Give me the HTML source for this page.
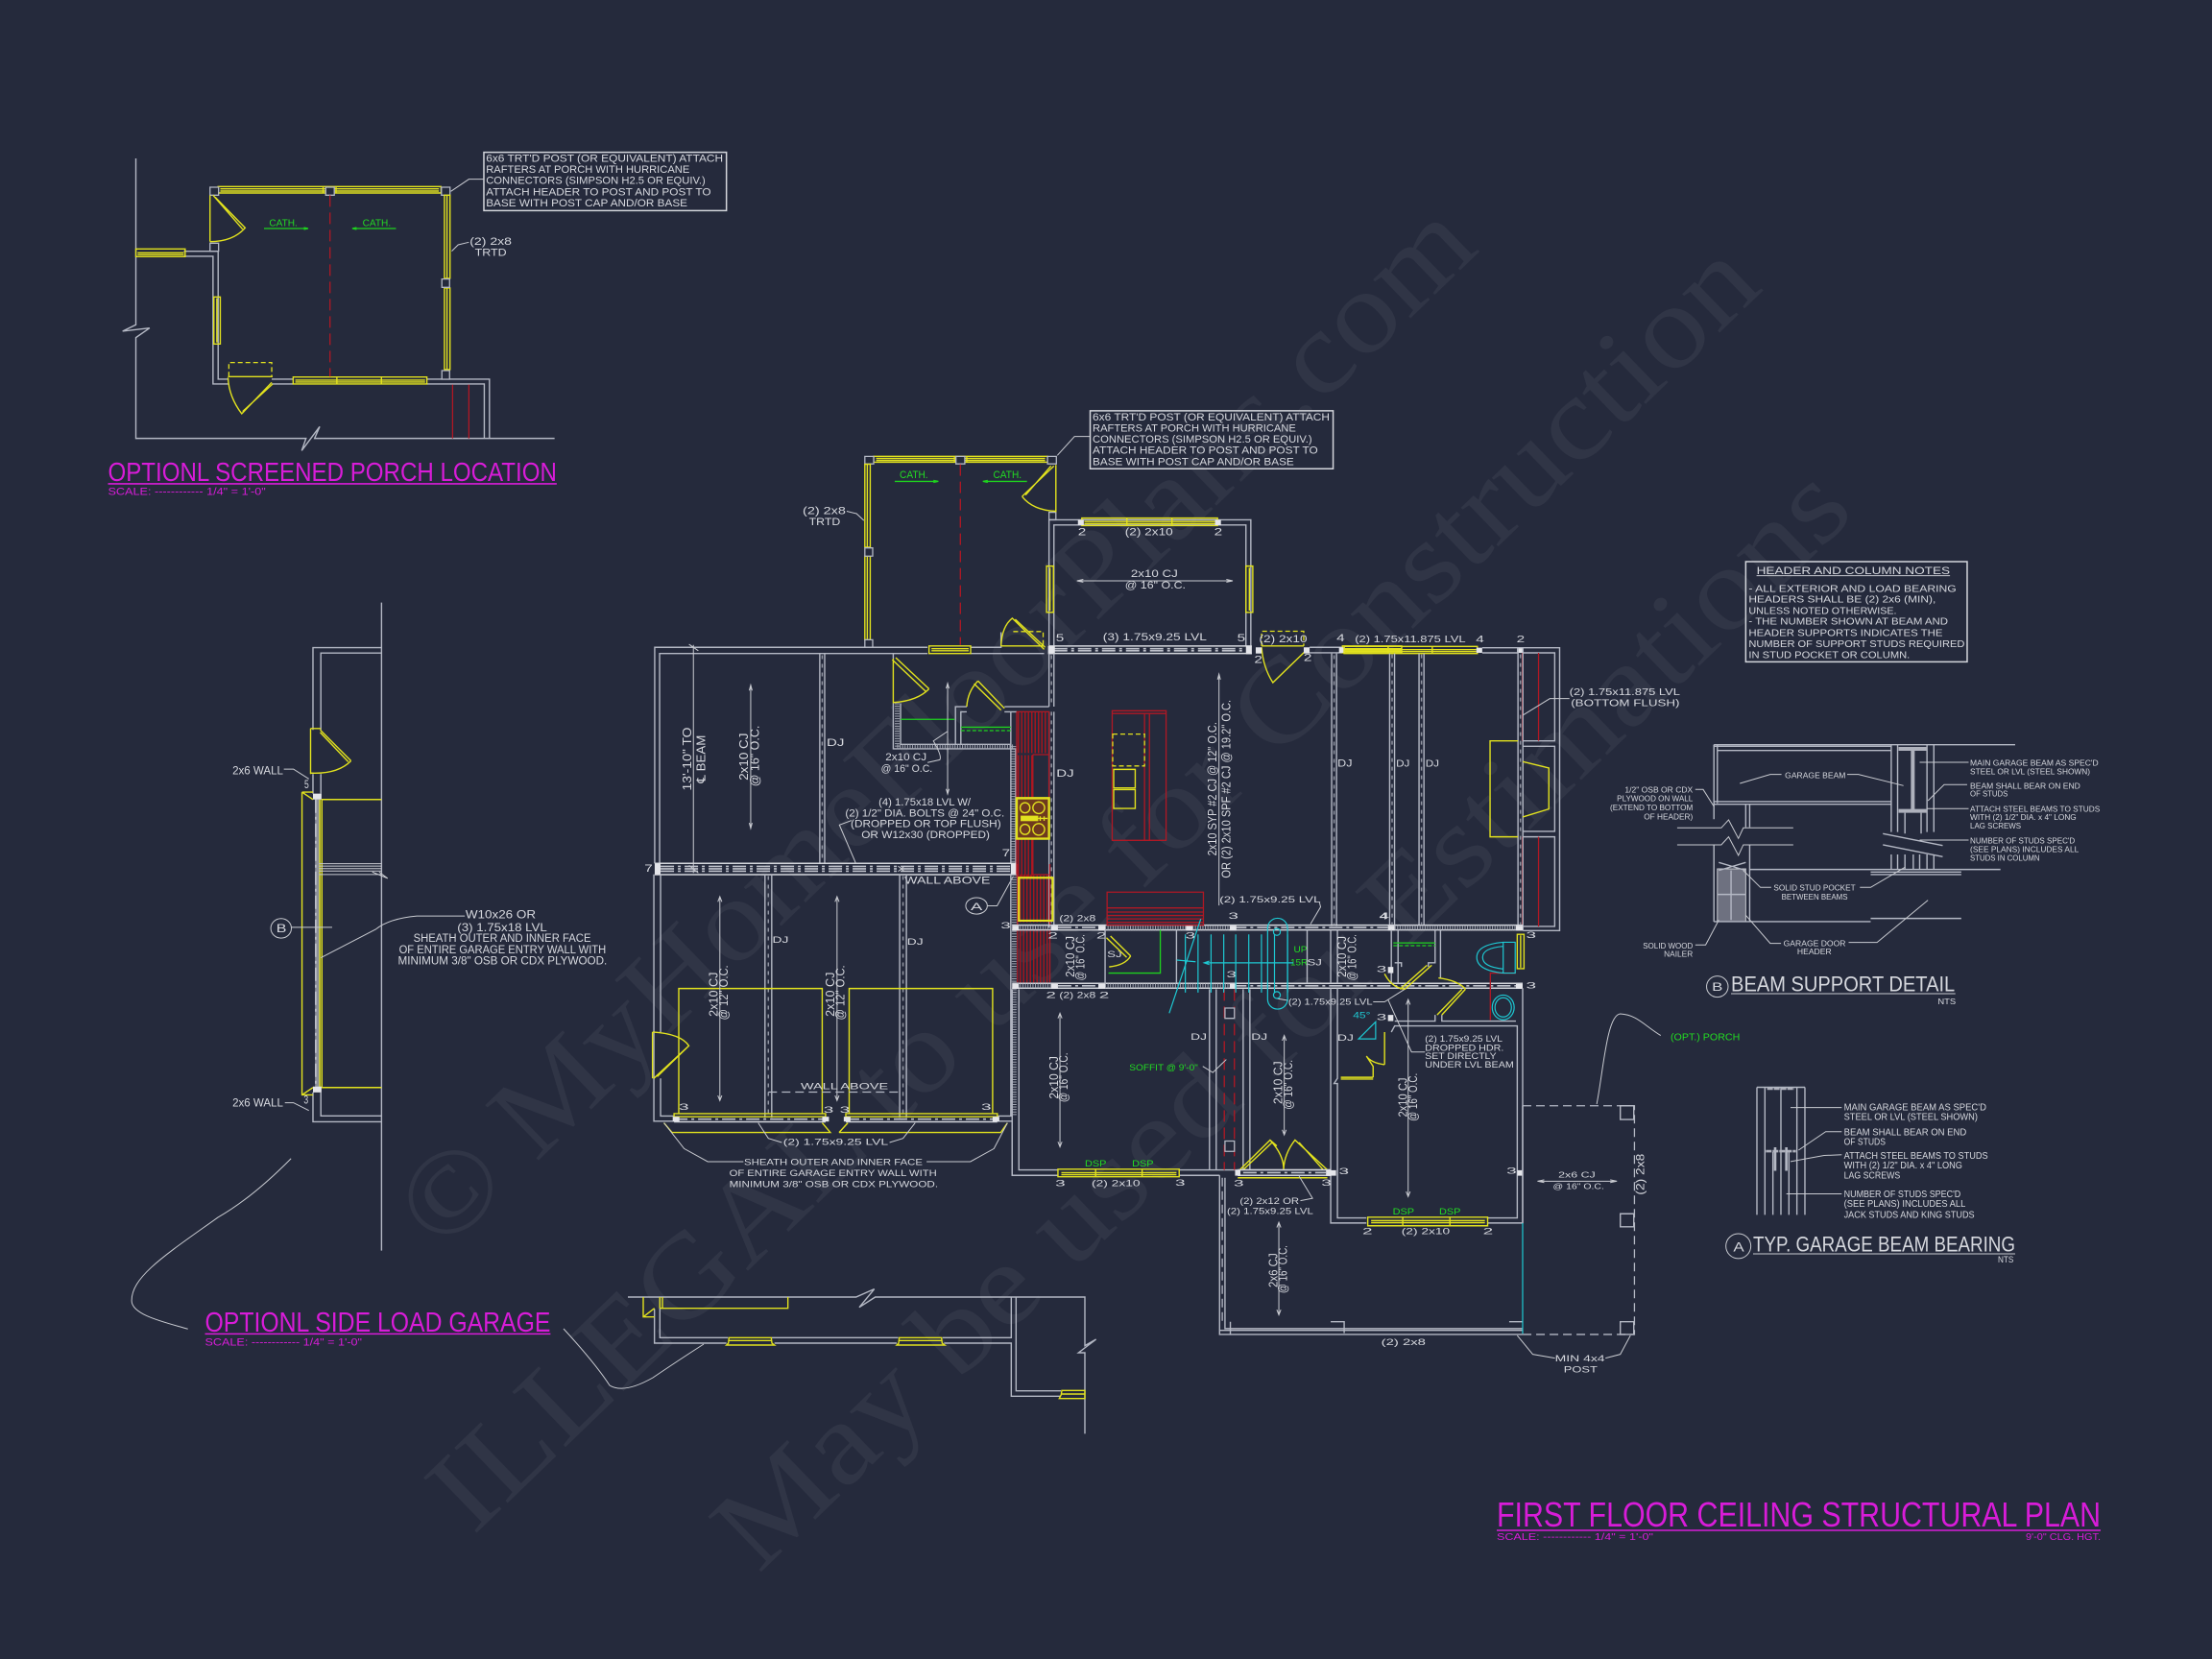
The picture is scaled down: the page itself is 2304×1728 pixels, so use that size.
<!DOCTYPE html>
<html><head><meta charset="utf-8"><style>
html,body{margin:0;padding:0;background:#252a3c;width:2304px;height:1728px;overflow:hidden}
svg{display:block;font-family:"Liberation Sans",sans-serif}
svg *{vector-effect:non-scaling-stroke}
.w{stroke:#b4b8c4;fill:none;stroke-width:1.4}
.b{stroke:#d4d6dc;fill:none;stroke-width:1.5}
.y{stroke:#e2e21e;fill:none;stroke-width:1.4}
.yy{stroke:#e2e21e;fill:none;stroke-width:2.4}
.yd{stroke:#e2e21e;fill:none;stroke-width:1.3;stroke-dasharray:5 3}
.r{stroke:#b01824;fill:none;stroke-width:1.3}
.rd{stroke:#b01824;fill:none;stroke-width:1.3;stroke-dasharray:12 6}
.c{stroke:#1ec8d2;fill:none;stroke-width:1.2}
.g{stroke:#1ed21e;fill:none;stroke-width:1.3}
.gd{stroke:#1ed21e;fill:none;stroke-width:1.3;stroke-dasharray:4 2}
.l{stroke:#c8cad0;fill:none;stroke-width:1}
.d{stroke:#b4b8c4;fill:none;stroke-width:1.3;stroke-dasharray:9 5}
.h{stroke:#a4a8b4;fill:none;stroke-width:5;stroke-dasharray:1 1.6}
.bd{stroke:#bfc2cb;fill:none;stroke-width:1.6;stroke-dasharray:14 4 3 4}
.dj{stroke:#8f93a0;fill:none;stroke-width:1.5;stroke-dasharray:4 5}
.rs{stroke:#a3161f;fill:none;stroke-dasharray:1.5 2}
.s{fill:#e4e5ea;stroke:none}
.p{fill:#252a3c;stroke:#b4b8c4;stroke-width:1.3}
text{fill:#d6d8de}
.tg{fill:#22dc22}.tm{fill:#d81cd8}.tc{fill:#1ec8d2}
.wm text{fill:rgba(255,255,255,.055);font-family:"Liberation Serif",serif;font-size:122px}
</style></head><body>
<svg width="2304" height="1728" viewBox="0 0 2304 1728" xmlns="http://www.w3.org/2000/svg">
<rect width="2304" height="1728" fill="#252a3c"/>
<g class="wm">
<text transform="translate(460,1306) rotate(-44)" textLength="1505" lengthAdjust="spacingAndGlyphs">© MyHomeFloorPlans.com</text>
<text transform="translate(493,1600) rotate(-44)" textLength="1870" lengthAdjust="spacingAndGlyphs">ILLEGAL to use for Construction</text>
<text transform="translate(790,1640) rotate(-44)" textLength="1590" lengthAdjust="spacingAndGlyphs">May be used for Estimations</text>
</g>

<!-- Z1 screened porch -->
<g transform="translate(100,140) scale(.4464,.3333)" font-size="32">
<path class="w" d="M93 75V595L62 615L125 605L93 635V950H490L480 988L522 913L510 950H1070"/>
<path class="w" d="M205 365H285V340M205 381H273V780H308M285 365V765H308M410 765H460M410 780H460M772 765H918V950M772 780H906V950"/>
<path class="y" d="M285 163H805V183H285ZM290 170H800M290 177H800M530 163V183M560 163V183"/>
<rect class="p" x="266" y="165" width="20" height="25"/><rect class="p" x="536" y="165" width="20" height="25"/><rect class="p" x="806" y="165" width="20" height="25"/>
<path class="y" d="M813 190H826V450H813ZM813 480H826V735H813ZM819 190V450M819 480V735"/>
<rect class="p" x="807" y="452" width="18" height="26"/><rect class="p" x="807" y="738" width="18" height="27"/><rect class="p" x="266" y="340" width="20" height="25"/>
<path class="y" d="M266 190V335M266 335Q320 335 348 292L278 196M273 190L342 296"/>
<path class="y" d="M93 358H208V382H93ZM97 370H205M97 376H205"/>
<path class="y" d="M275 508H290V655H275ZM282 512V650"/>
<path class="y" d="M460 758H772V780H460ZM465 768H768M465 774H768M562 760V780M666 760V780"/>
<path class="y" d="M308 757H412M308 760Q310 820 340 873L410 775M342 866L412 780"/><path class="yd" d="M310 757V713H410V757"/>
<path class="r" d="M832 782V950M870 782V950"/><path class="rd" d="M546 190V757"/>
<text class="tg" x="404" y="286" textLength="66" lengthAdjust="spacingAndGlyphs" font-size="30">CATH.</text>
<text class="tg" x="622" y="286" textLength="66" lengthAdjust="spacingAndGlyphs" font-size="30">CATH.</text>
<path class="g" d="M392 294H495M485 291L495 294L485 297M700 294H598M608 291L598 294L608 297"/>
<rect class="b" x="905" y="56" width="566" height="182"/>
<path class="l" d="M905 140H870L828 178M870 337L845 345L830 365"/>
<text x="910" y="86" textLength="553" lengthAdjust="spacingAndGlyphs">6x6 TRT'D POST (OR EQUIVALENT) ATTACH</text>
<text x="910" y="120" textLength="475" lengthAdjust="spacingAndGlyphs">RAFTERS AT PORCH WITH HURRICANE</text>
<text x="910" y="155" textLength="512" lengthAdjust="spacingAndGlyphs">CONNECTORS (SIMPSON H2.5 OR EQUIV.)</text>
<text x="910" y="190" textLength="525" lengthAdjust="spacingAndGlyphs">ATTACH HEADER TO POST AND POST TO</text>
<text x="910" y="225" textLength="470" lengthAdjust="spacingAndGlyphs">BASE WITH POST CAP AND/OR BASE</text>
<text x="872" y="345" textLength="98" lengthAdjust="spacingAndGlyphs">(2) 2x8</text>
<text x="884" y="380" textLength="74" lengthAdjust="spacingAndGlyphs">TRTD</text>
<text class="tm" x="28" y="1083" textLength="1047" lengthAdjust="spacingAndGlyphs" font-size="84">OPTIONL SCREENED PORCH LOCATION</text>
<path d="M28 1092H1075" stroke="#d81cd8" stroke-width="1.6" fill="none"/>
<text class="tm" x="28" y="1127" textLength="368" lengthAdjust="spacingAndGlyphs" font-size="32">SCALE: ------------ 1/4" = 1'-0"</text>
</g>

<!-- Z5 side load garage -->
<g transform="translate(120,620) scale(.357,.5102)" font-size="24">
<path class="w" d="M777 15V1338M577 275V107H777M600 275V118H777M577 365V405M600 365V405M577 1015V1075H777M600 1015V1063H777"/>
<path d="M590 417V1005" stroke="#8d909c" stroke-width="5" fill="none"/><path class="bd" d="M585 417V1005"/>
<path class="y" d="M597 417V1005M603 417V1005M602 417H777M602 1005H777M545 402V1020H577M545 402H577M545 402L577 417M545 1020L577 1005"/>
<rect class="s" x="577" y="405" width="25" height="12"/><rect class="s" x="577" y="1003" width="25" height="12"/>
<path class="y" d="M570 272V365M598 275L688 338M598 280L680 340M688 338Q650 365 572 363M570 272H600"/>
<path class="l" d="M595 548H777M595 553H777M595 558H777M595 563H777M595 570H777M750 565L795 578L770 565"/>
<ellipse class="l" cx="484" cy="680" rx="30" ry="20"/>
<text x="470" y="688" font-size="24" textLength="30" lengthAdjust="spacingAndGlyphs">B</text>
<path class="l" d="M514 678H633M1020 655H880Q800 660 760 682L600 740M492 355H520L565 375M495 1036H520L565 1052M513 1150Q400 1230 300 1270C150 1345 48 1390 48 1440C48 1470 150 1485 212 1498"/>
<text x="1022" y="660" textLength="205" lengthAdjust="spacingAndGlyphs">W10x26 OR</text>
<text x="998" y="686" textLength="262" lengthAdjust="spacingAndGlyphs">(3) 1.75x18 LVL</text>
<text x="870" y="708" textLength="518" lengthAdjust="spacingAndGlyphs">SHEATH OUTER AND INNER FACE</text>
<text x="828" y="731" textLength="604" lengthAdjust="spacingAndGlyphs">OF ENTIRE GARAGE ENTRY WALL WITH</text>
<text x="825" y="754" textLength="610" lengthAdjust="spacingAndGlyphs">MINIMUM 3/8" OSB OR CDX PLYWOOD.</text>
<text x="342" y="366" textLength="148" lengthAdjust="spacingAndGlyphs">2x6 WALL</text>
<text x="342" y="1044" textLength="148" lengthAdjust="spacingAndGlyphs">2x6 WALL</text>
<text x="552" y="394">5</text><text x="550" y="1038">3</text>
<text class="tm" x="262" y="1503" textLength="1008" lengthAdjust="spacingAndGlyphs" font-size="56">OPTIONL SIDE LOAD GARAGE</text>
<path d="M262 1508H1270" stroke="#d81cd8" stroke-width="1.6" fill="none"/>
<text class="tm" x="262" y="1532" textLength="458" lengthAdjust="spacingAndGlyphs" font-size="22">SCALE: ------------ 1/4" = 1'-0"</text>
</g>
<path class="l" d="M587 1384Q620 1420 635 1443Q650 1452 680 1435Q705 1418 733 1400"/>

<!-- Z2 main plan upper -->
<g transform="translate(660,420) scale(.5102,.3571)" font-size="30">
<path class="y" d="M490 155H845V172H490ZM495 161H840M495 167H840M655 155V172M680 155V172"/>
<rect class="p" x="472" y="155" width="18" height="22"/><rect class="p" x="658" y="155" width="18" height="22"/><rect class="p" x="845" y="155" width="18" height="22"/>
<path class="y" d="M472 178H483V420H472ZM472 446H483V690H472ZM477 180V418M477 448V688"/>
<rect class="p" x="472" y="422" width="16" height="24"/><rect class="p" x="472" y="690" width="16" height="22"/><rect class="p" x="848" y="318" width="14" height="22"/>
<path class="y" d="M862 180V318M858 183L793 272M852 183L800 268M793 272Q815 312 862 315"/>
<path class="rd" d="M667 178V705"/>
<text class="tg" x="543" y="218" textLength="58" lengthAdjust="spacingAndGlyphs">CATH.</text>
<text class="tg" x="734" y="218" textLength="58" lengthAdjust="spacingAndGlyphs">CATH.</text>
<path class="g" d="M533 228H622M612 225L622 228L612 231M803 228H713M723 225L713 228L723 231"/>
<rect class="b" x="932" y="22" width="496" height="169"/>
<path class="l" d="M932 97H900L865 152M435 315L455 322L470 342"/>
<text x="937" y="50" textLength="484" lengthAdjust="spacingAndGlyphs">6x6 TRT'D POST (OR EQUIVALENT) ATTACH</text>
<text x="937" y="83" textLength="415" lengthAdjust="spacingAndGlyphs">RAFTERS AT PORCH WITH HURRICANE</text>
<text x="937" y="115" textLength="448" lengthAdjust="spacingAndGlyphs">CONNECTORS (SIMPSON H2.5 OR EQUIV.)</text>
<text x="937" y="147" textLength="460" lengthAdjust="spacingAndGlyphs">ATTACH HEADER TO POST AND POST TO</text>
<text x="937" y="180" textLength="411" lengthAdjust="spacingAndGlyphs">BASE WITH POST CAP AND/OR BASE</text>
<text x="345" y="323" textLength="88" lengthAdjust="spacingAndGlyphs">(2) 2x8</text>
<text x="358" y="355" textLength="64" lengthAdjust="spacingAndGlyphs">TRTD</text>

<path class="w" d="M848 708V340H1260V710M858 708V355H1250V710"/>
<path class="y" d="M915 335H1192V357H915ZM920 345H1188M920 351H1188M1007 337V356M1099 337V356"/>
<rect class="s" x="907" y="340" width="12" height="16"/><rect class="s" x="1187" y="340" width="12" height="16"/>
<text x="907" y="385">2</text><text x="1185" y="385">2</text>
<text x="1003" y="385" textLength="98" lengthAdjust="spacingAndGlyphs">(2) 2x10</text>
<path class="y" d="M843 475H857V610H843ZM850 480V605M1250 475H1264V610H1250ZM1257 480V605"/>
<text x="1015" y="507" textLength="96" lengthAdjust="spacingAndGlyphs">2x10 CJ</text>
<text x="1003" y="541" textLength="124" lengthAdjust="spacingAndGlyphs">@ 16" O.C.</text>
<path class="l" d="M905 518H1223M918 514L905 518L918 522M1210 514L1223 518L1210 522"/>
<text x="862" y="695">5</text><text x="1232" y="695">5</text>
<text x="958" y="692" textLength="212" lengthAdjust="spacingAndGlyphs">(3) 1.75x9.25 LVL</text>
<path class="b" d="M848 708H1262M848 730H1262"/><path class="bd" d="M858 716H1250"/><path class="bd" d="M858 722H1250"/>
<rect class="s" x="846" y="708" width="14" height="24"/><rect class="s" x="1250" y="708" width="12" height="24"/>
<path class="yd" d="M1282 708V665H1368V708"/>
<path class="y" d="M1282 708H1368M1282 712Q1285 770 1305 815L1370 725M1310 808L1372 722"/>
<rect class="s" x="1270" y="712" width="12" height="18"/><rect class="s" x="1368" y="712" width="12" height="18"/>
<text x="1267" y="758">2</text><text x="1368" y="752">2</text>
<text x="1277" y="697" textLength="98" lengthAdjust="spacingAndGlyphs">(2) 2x10</text>
<text x="1435" y="695">4</text>
<path class="w" d="M1380 712H1447M1380 728H1447"/>
<path class="y" d="M1447 708H1568V728H1447ZM1452 716H1568M1452 722H1568"/><rect class="s" x="1440" y="712" width="12" height="16"/>

<path class="w" d="M43 1342V712H600M53 1342V730H530V745M688 712H750V668M600 730H53M688 730H750M750 730H838M858 730V885M848 730V885M858 900V1530M848 900V1530"/>
<path class="dj" d="M853 735V880M853 900V1525"/>
<path class="y" d="M603 708H688V730H603ZM608 716H684M608 722H684"/>
<path class="y" d="M750 708H838M750 708Q752 650 773 627L838 718M779 630L840 712"/><path class="yd" d="M775 666H836V705"/>
<path class="l" d="M122 705V1370M113 703L132 722M113 1348L132 1370"/>
<text transform="translate(118,1130) rotate(-90)" textLength="185" lengthAdjust="spacingAndGlyphs" font-size="25">13'-10" TO</text>
<text transform="translate(146,1108) rotate(-90)" textLength="140" lengthAdjust="spacingAndGlyphs" font-size="25">℄ BEAM</text>
<text transform="translate(233,1100) rotate(-90)" textLength="138" lengthAdjust="spacingAndGlyphs" font-size="25">2x10 CJ</text>
<text transform="translate(256,1118) rotate(-90)" textLength="178" lengthAdjust="spacingAndGlyphs" font-size="25">@ 16" O.C.</text>
<path class="l" d="M239 822V1240M236 838L239 822L242 838M236 1224L239 1240L242 1224"/>
<path class="w" d="M380 730V1342M390 730V1342"/><path class="dj" d="M385 735V1340"/>
<text x="394" y="1000" textLength="36" lengthAdjust="spacingAndGlyphs">DJ</text>
<path class="y" d="M530 745V875M535 742L603 833M528 748L596 840M603 833Q580 868 530 873"/>
<path class="w" d="M530 875V1008H780V1342M545 875V995H770V1342M657 995V885H680M668 995V900H680M757 885H848M757 900H782M770 995V900"/>
<path class="h" d="M538 875V1005M538 1002H776M776 1000V1342"/>
<path class="y" d="M703 810L757 890M695 818L750 895M703 810Q682 840 680 885"/>
<path class="g" d="M545 922H655M668 945H770"/><path class="gd" d="M668 955H770"/>
<path class="l" d="M641 817V1140M638 832L641 817L644 832M638 1125L641 1140L644 1125M640 958L612 985Q630 1030 625 1040L600 1048M445 1217L420 1230L453 1340"/>
<text x="514" y="1042" textLength="84" lengthAdjust="spacingAndGlyphs">2x10 CJ</text>
<text x="505" y="1076" textLength="105" lengthAdjust="spacingAndGlyphs">@ 16" O.C.</text>
<text x="500" y="1173" textLength="188" lengthAdjust="spacingAndGlyphs">(4) 1.75x18 LVL W/</text>
<text x="432" y="1205" textLength="325" lengthAdjust="spacingAndGlyphs">(2) 1/2" DIA. BOLTS @ 24" O.C.</text>
<text x="443" y="1236" textLength="307" lengthAdjust="spacingAndGlyphs">(DROPPED OR TOP FLUSH)</text>
<text x="465" y="1268" textLength="262" lengthAdjust="spacingAndGlyphs">OR W12x30 (DROPPED)</text>
<path class="b" d="M43 1342H782M43 1375H782"/><path class="bd" d="M55 1351H770"/><path class="bd" d="M55 1358H770"/><path class="bd" d="M55 1365H770"/>
<rect class="s" x="43" y="1342" width="12" height="33"/><rect class="s" x="770" y="1342" width="12" height="33"/>
<text x="22" y="1366">7</text><text x="752" y="1322">7</text>
<path class="l" d="M540 1350L553 1366M553 1350L540 1366"/>
<text x="553" y="1402" textLength="175" lengthAdjust="spacingAndGlyphs">WALL ABOVE</text>
<ellipse class="l" cx="700" cy="1466" rx="22" ry="24"/>
<text x="688" y="1478" font-size="32" textLength="24" lengthAdjust="spacingAndGlyphs">A</text>
<path class="l" d="M722 1466H742L775 1380"/>
<path class="rs" style="stroke-width:43" d="M784 960H846"/><path class="rs" style="stroke-width:44" d="M784 1088H815"/>
<path class="rs" style="stroke-width:41" d="M784 1327H815"/>
<path class="r" d="M782 900H848V1152M782 900V1385M815 1025H848M815 1025V1152M815 1270V1375H848"/>
<path d="M782 1152H848V1270H782Z" fill="#6e3a1e" stroke="#e2e21e" stroke-width="2.4"/>
<ellipse class="y" cx="799" cy="1180" rx="10" ry="15"/><ellipse class="y" cx="827" cy="1180" rx="12" ry="17"/>
<ellipse class="y" cx="799" cy="1243" rx="10" ry="15"/><ellipse class="y" cx="827" cy="1243" rx="12" ry="17"/>
<rect x="790" y="1203" width="36" height="16" fill="#e2e21e"/><path class="y" d="M830 1205V1218M838 1205V1218M826 1211H845"/>
<text x="863" y="1090" textLength="36" lengthAdjust="spacingAndGlyphs">DJ</text>
<path class="r" d="M977 897H1087V1275H977ZM977 905H1087M1043 905V1275M1053 905V1275"/>
<path class="yd" d="M978 965H1043V1058H978Z"/>
<path class="y" d="M980 1068H1024V1122H980ZM980 1127H1024V1182H980Z"/>
<text transform="translate(1190,1320) rotate(-90)" textLength="390" lengthAdjust="spacingAndGlyphs" font-size="25">2x10 SYP #2 CJ @ 12" O.C.</text>
<text transform="translate(1218,1385) rotate(-90)" textLength="520" lengthAdjust="spacingAndGlyphs" font-size="25">OR (2) 2x10 SPF #2 CJ @ 19.2" O.C.</text>
<path class="l" d="M1195 790V1465M1192 806L1195 790L1198 806"/>
<path class="w" d="M1425 730V1525M1435 730V1525"/><path class="dj" d="M1430 735V1520"/>
<text x="1437" y="1060" textLength="30" lengthAdjust="spacingAndGlyphs">DJ</text>
</g>

<!-- Z4 right wing + details -->
<g transform="translate(1400,560) scale(.5102,.3333)" font-size="30">
<path class="y" d="M0 340H272V362H0ZM0 350H270M0 356H270M90 340V362M180 340V362"/>
<rect class="s" x="270" y="344" width="12" height="16"/><rect class="s" x="353" y="344" width="12" height="16"/>
<path class="w" d="M282 344H440V1228H365M282 360H355M365 360H430V635H365M365 652H430V918H365M365 935H430V1215H365"/>
<path class="r" d="M397 360V635M397 935V1215M364 360V635M364 935V1215"/>
<path class="w" d="M93 362V1210M103 362V1210M153 362V1210M163 362V1210M355 345V1228M365 345V1228"/>
<path class="dj" d="M98 365V1208M158 365V1208M360 365V1208"/>
<text x="106" y="715" textLength="28" lengthAdjust="spacingAndGlyphs">DJ</text>
<text x="166" y="715" textLength="28" lengthAdjust="spacingAndGlyphs">DJ</text>
<text x="22" y="327" textLength="226" lengthAdjust="spacingAndGlyphs">(2) 1.75x11.875 LVL</text>
<text x="269" y="327">4</text><text x="352" y="327">2</text><text x="72" y="1193">4</text>
<path class="y" d="M355 635H298V935H355M365 700L418 720V848L365 873"/>
<text x="460" y="492" textLength="226" lengthAdjust="spacingAndGlyphs">(2) 1.75x11.875 LVL</text>
<text x="463" y="527" textLength="222" lengthAdjust="spacingAndGlyphs">(BOTTOM FLUSH)</text>
<path class="l" d="M460 503H420L365 555"/>

<rect class="b" x="820" y="75" width="452" height="313"/>
<text x="842" y="114" textLength="395" lengthAdjust="spacingAndGlyphs" font-size="33">HEADER AND COLUMN NOTES</text>
<path class="l" d="M842 119H1237"/>
<text x="826" y="169" textLength="424" lengthAdjust="spacingAndGlyphs">- ALL EXTERIOR AND LOAD BEARING</text>
<text x="826" y="203" textLength="382" lengthAdjust="spacingAndGlyphs">HEADERS SHALL BE (2) 2x6 (MIN),</text>
<text x="826" y="238" textLength="302" lengthAdjust="spacingAndGlyphs">UNLESS NOTED OTHERWISE.</text>
<text x="826" y="272" textLength="407" lengthAdjust="spacingAndGlyphs">- THE NUMBER SHOWN AT BEAM AND</text>
<text x="826" y="307" textLength="396" lengthAdjust="spacingAndGlyphs">HEADER SUPPORTS INDICATES THE</text>
<text x="826" y="342" textLength="441" lengthAdjust="spacingAndGlyphs">NUMBER OF SUPPORT STUDS REQUIRED</text>
<text x="826" y="377" textLength="329" lengthAdjust="spacingAndGlyphs">IN STUD POCKET OR COLUMN.</text>

<path class="w" d="M755 647H1370M755 647V880M762 647V830M755 652H1117M762 665H1117M755 825H1117M755 833H1117M820 833V905M828 833V905M755 960V1200M828 960V1200"/>
<path class="l" d="M680 907H770L785 882L805 940L815 907H917M680 960H770L785 935L805 993L815 960H917"/>
<rect x="762" y="1035" width="58" height="165" fill="#6e7180" stroke="#c8cad0"/>
<path class="w" d="M790 1040V1195M762 1115H820M765 1015L820 1040M820 1015L765 1040"/>
<path class="w" d="M1117 647V920M1130 647V920M1190 647V920M1204 647V920M1117 990V1037M1130 990V1037M1145 990V1037M1162 990V1037M1175 990V1037M1190 990V1037M1204 990V1037"/>
<path d="M1132 660H1190M1161 665V848M1132 854H1190" stroke="#aeb1bc" stroke-width="4" fill="none"/>
<path class="w" d="M1145 860V925M1178 860V925M1100 925L1222 962M1100 960L1222 997"/>
<path class="w" d="M828 1037H1340M1075 1045H1260M1075 1053H1260M755 1200H1075M1075 1190H1260"/>
<path class="l" d="M893 740H870L808 768M1027 740H1050L1142 775M1275 702H1175M1272 772H1225L1192 822M1275 847H1190M1275 945H1175M717 787H733L755 840M872 1093H850L815 1040M1053 1093H1075L1145 1030M717 1273H738L765 1195M892 1268H870L820 1180M1030 1265H1088L1192 1133"/>
<g font-size="25">
<text x="900" y="751" textLength="124" lengthAdjust="spacingAndGlyphs">GARAGE BEAM</text>
<text x="1278" y="712" textLength="262" lengthAdjust="spacingAndGlyphs">MAIN GARAGE BEAM AS SPEC'D</text>
<text x="1278" y="739" textLength="245" lengthAdjust="spacingAndGlyphs">STEEL OR LVL (STEEL SHOWN)</text>
<text x="1278" y="785" textLength="225" lengthAdjust="spacingAndGlyphs">BEAM SHALL BEAR ON END</text>
<text x="1278" y="808" textLength="77" lengthAdjust="spacingAndGlyphs">OF STUDS</text>
<text x="1278" y="857" textLength="265" lengthAdjust="spacingAndGlyphs">ATTACH STEEL BEAMS TO STUDS</text>
<text x="1278" y="882" textLength="217" lengthAdjust="spacingAndGlyphs">WITH (2) 1/2" DIA. x 4" LONG</text>
<text x="1278" y="909" textLength="104" lengthAdjust="spacingAndGlyphs">LAG SCREWS</text>
<text x="1278" y="955" textLength="214" lengthAdjust="spacingAndGlyphs">NUMBER OF STUDS SPEC'D</text>
<text x="1278" y="982" textLength="222" lengthAdjust="spacingAndGlyphs">(SEE PLANS) INCLUDES ALL</text>
<text x="1278" y="1009" textLength="142" lengthAdjust="spacingAndGlyphs">STUDS IN COLUMN</text>
<text x="573" y="796" textLength="139" lengthAdjust="spacingAndGlyphs">1/2" OSB OR CDX</text>
<text x="557" y="823" textLength="155" lengthAdjust="spacingAndGlyphs">PLYWOOD ON WALL</text>
<text x="543" y="852" textLength="169" lengthAdjust="spacingAndGlyphs">(EXTEND TO BOTTOM</text>
<text x="612" y="881" textLength="100" lengthAdjust="spacingAndGlyphs">OF HEADER)</text>
<text x="877" y="1102" textLength="167" lengthAdjust="spacingAndGlyphs">SOLID STUD POCKET</text>
<text x="893" y="1131" textLength="135" lengthAdjust="spacingAndGlyphs">BETWEEN BEAMS</text>
<text x="610" y="1284" textLength="102" lengthAdjust="spacingAndGlyphs">SOLID WOOD</text>
<text x="653" y="1309" textLength="59" lengthAdjust="spacingAndGlyphs">NAILER</text>
<text x="897" y="1277" textLength="127" lengthAdjust="spacingAndGlyphs">GARAGE DOOR</text>
<text x="925" y="1302" textLength="70" lengthAdjust="spacingAndGlyphs">HEADER</text>
<text x="1212" y="1458" textLength="37" lengthAdjust="spacingAndGlyphs">NTS</text>
</g>
<ellipse class="l" cx="762" cy="1403" rx="22" ry="33"/>
<text x="751" y="1416" font-size="36" textLength="22" lengthAdjust="spacingAndGlyphs">B</text>
<text x="790" y="1418" textLength="457" lengthAdjust="spacingAndGlyphs" font-size="66">BEAM SUPPORT DETAIL</text>
<path class="l" d="M790 1425H1248"/>
</g>

<!-- Z3 main plan lower -->
<g transform="translate(660,900) scale(.7015,.3571)" font-size="27">
<path class="w" d="M30 30V750H60M40 30V490M40 625V735H60M540 750H562V908H630M562 735H540M195 30V740M205 30V740M395 30V740M405 30V740"/>
<path class="dj" d="M200 35V738M400 35V738"/>
<path class="y" d="M67 728V363H280V728M320 728V363H533V728"/>
<path class="y" d="M60 728H285V737H60ZM315 728H540V737H315ZM45 755L57 783H292L280 755M305 783H545L555 755M305 783L318 755"/>
<path class="b" d="M60 752H285M315 752H540"/><path class="bd" d="M60 744H285M315 744H540"/>
<rect class="s" x="58" y="737" width="10" height="14"/><rect class="s" x="280" y="737" width="10" height="14"/><rect class="s" x="312" y="737" width="10" height="14"/><rect class="s" x="533" y="737" width="10" height="14"/>
<text x="67" y="717">3</text><text x="282" y="725">3</text><text x="306" y="725">3</text><text x="516" y="717">3</text>
<path class="l" d="M220 812L200 800L185 755M380 812L400 800L418 755M163 868H110L75 830L45 755M435 868H500L535 830L555 755"/>
<text x="222" y="819" textLength="156" lengthAdjust="spacingAndGlyphs">(2) 1.75x9.25 LVL</text>
<text x="164" y="878" textLength="265" lengthAdjust="spacingAndGlyphs">SHEATH OUTER AND INNER FACE</text>
<text x="142" y="910" textLength="308" lengthAdjust="spacingAndGlyphs">OF ENTIRE GARAGE ENTRY WALL WITH</text>
<text x="142" y="942" textLength="310" lengthAdjust="spacingAndGlyphs">MINIMUM 3/8" OSB OR CDX PLYWOOD.</text>
<text x="206" y="230" textLength="24" lengthAdjust="spacingAndGlyphs">DJ</text><text x="406" y="235" textLength="24" lengthAdjust="spacingAndGlyphs">DJ</text>
<path class="l" d="M128 95V690M125 110L128 95L131 110M125 675L128 690L131 675M302 95V690M299 110L302 95L305 110M299 675L302 690L305 675"/>
<text transform="translate(125,445) rotate(-90)" textLength="130" lengthAdjust="spacingAndGlyphs" font-size="18">2x10 CJ</text>
<text transform="translate(140,455) rotate(-90)" textLength="160" lengthAdjust="spacingAndGlyphs" font-size="18">@ 12" O.C.</text>
<text transform="translate(298,445) rotate(-90)" textLength="130" lengthAdjust="spacingAndGlyphs" font-size="18">2x10 CJ</text>
<text transform="translate(313,455) rotate(-90)" textLength="160" lengthAdjust="spacingAndGlyphs" font-size="18">@ 12" O.C.</text>
<text x="248" y="656" textLength="130" lengthAdjust="spacingAndGlyphs">WALL ABOVE</text>
<path class="d" d="M200 665H400"/>
<path class="y" d="M28 490V625M28 490Q70 495 82 530L35 620M82 530L30 625"/>
<path class="w" d="M560 30V735M570 30V178"/><path class="h" d="M565 30V178M565 195V348M565 365V735"/>
<path class="rs" style="stroke-width:50" d="M573 100H618"/><path class="rs" style="stroke-width:56" d="M573 268H618"/>
<path class="r" d="M570 0V178M618 0V178M570 192V345M618 192V345"/>
<rect x="572" y="40" width="50" height="125" fill="none" stroke="#e2e21e" stroke-width="2.2"/>

<path class="b" d="M562 178H1320M562 192H1320M562 348H1320M562 362H1320"/>
<path class="h" d="M570 185H620M700 185H885M1130 185H1310M570 355H620M700 355H885"/>
<path class="bd" d="M630 185H690M890 185H1120M630 355H690M890 355H1310"/>
<g fill="#e4e5ea"><rect class="s" x="562" y="180" width="10" height="14"/><rect class="s" x="620" y="180" width="10" height="14"/><rect class="s" x="690" y="180" width="10" height="14"/><rect class="s" x="820" y="180" width="10" height="14"/><rect class="s" x="885" y="180" width="10" height="14"/><rect class="s" x="1120" y="180" width="10" height="14"/><rect class="s" x="1310" y="180" width="10" height="14"/><rect class="s" x="562" y="350" width="10" height="14"/><rect class="s" x="620" y="350" width="10" height="14"/><rect class="s" x="690" y="350" width="10" height="14"/><rect class="s" x="885" y="350" width="10" height="14"/><rect class="s" x="1310" y="350" width="10" height="14"/></g>
<text x="545" y="187">3</text><text x="632" y="166" textLength="54" lengthAdjust="spacingAndGlyphs">(2) 2x8</text>
<text x="615" y="217">2</text><text x="687" y="217">2</text><text x="819" y="217">3</text>
<text x="883" y="160">3</text><text x="1107" y="160">4</text>
<text x="870" y="112" textLength="150" lengthAdjust="spacingAndGlyphs">(2) 1.75x9.25 LVL</text>
<path class="l" d="M1018 110L1020 125L1005 175"/>
<path class="r" d="M703 82H846V178H703ZM703 128H846M703 140H846M703 150H846M703 160H846M703 170H846"/>
<text x="703" y="272" textLength="22" lengthAdjust="spacingAndGlyphs">SJ</text>
<path class="y" d="M708 210L738 268M702 215L732 272M738 268Q730 295 706 300"/>
<path class="g" d="M705 318H782V192"/><path class="w" d="M700 192V348M806 192V348"/>
<text transform="translate(654,330) rotate(-90)" textLength="120" lengthAdjust="spacingAndGlyphs" font-size="18">2x10 CJ</text>
<text transform="translate(669,340) rotate(-90)" textLength="135" lengthAdjust="spacingAndGlyphs" font-size="18">@ 16" O.C.</text>
<text x="612" y="390">2</text><text x="632" y="390" textLength="54" lengthAdjust="spacingAndGlyphs">(2) 2x8</text><text x="691" y="390">2</text>
<text class="tg" x="980" y="258" textLength="20" lengthAdjust="spacingAndGlyphs">UP</text>
<text class="tg" x="975" y="296" textLength="26" lengthAdjust="spacingAndGlyphs">15R</text>
<text x="1000" y="295" textLength="22" lengthAdjust="spacingAndGlyphs">SJ</text>
<path class="w" d="M1000 192V348"/>
<text x="880" y="330">3</text>
<text x="972" y="410" textLength="125" lengthAdjust="spacingAndGlyphs">(2) 1.75x9.25 LVL</text>
<path class="l" d="M972 398L955 392M1098 402H1115L1145 365"/>
<path class="w" d="M1035 192V348M1045 192V348M1125 192V348M1135 192V348M1190 192V288H1180V300M1130 288H1140V300M1198 192V332M1200 440V458H1310M1130 458H1190V440"/>
<text transform="translate(1058,330) rotate(-90)" textLength="120" lengthAdjust="spacingAndGlyphs" font-size="18">2x10 CJ</text>
<text transform="translate(1073,340) rotate(-90)" textLength="135" lengthAdjust="spacingAndGlyphs" font-size="18">@ 16" O.C.</text>
<path class="g" d="M1128 230H1190"/><path class="gd" d="M1128 238H1190"/>
<path class="y" d="M1185 295L1145 365M1178 295L1138 365M1115 320Q1125 360 1145 365M1235 365L1200 440M1230 365L1193 440M1195 332Q1225 340 1235 365"/>
<rect class="s" x="1120" y="300" width="8" height="18"/><rect class="s" x="1120" y="440" width="8" height="18"/>
<text x="1103" y="315">3</text><text x="1103" y="455">3</text>
<path class="y" d="M1312 205H1322V305H1312ZM1317 208V302"/>
<text x="1325" y="216">3</text><text x="1325" y="362">3</text>
<path class="r" d="M1310 318H1272V455"/>
<text class="tc" x="1068" y="450" textLength="26" lengthAdjust="spacingAndGlyphs">45°</text>
<path class="w" d="M1125 490L1130 472H1312V1032H1268M1320 362V1047H1268M1035 362V1047H1088M1045 362V625L1040 640H1045V1032H1088"/>
<path class="y" d="M1115 490V585M1115 585Q1095 580 1088 560M1098 622V590L1088 560M1050 622H1098M1050 627H1098"/>
<text x="1045" y="515" textLength="24" lengthAdjust="spacingAndGlyphs">DJ</text>
<text x="1175" y="518" textLength="115" lengthAdjust="spacingAndGlyphs">(2) 1.75x9.25 LVL</text>
<text x="1175" y="544" textLength="117" lengthAdjust="spacingAndGlyphs">DROPPED HDR.</text>
<text x="1175" y="569" textLength="106" lengthAdjust="spacingAndGlyphs">SET DIRECTLY</text>
<text x="1175" y="593" textLength="132" lengthAdjust="spacingAndGlyphs">UNDER LVL BEAM</text>
<path class="l" d="M1175 548H1155L1120 395M1150 395V970M1147 410L1150 395L1153 410M1147 955L1150 970L1153 955"/>
<text transform="translate(1148,738) rotate(-90)" textLength="115" lengthAdjust="spacingAndGlyphs" font-size="18">2x10 CJ</text>
<text transform="translate(1163,750) rotate(-90)" textLength="140" lengthAdjust="spacingAndGlyphs" font-size="18">@ 16" O.C.</text>
<path class="y" d="M1090 1030H1268V1055H1090ZM1095 1040H1264M1095 1046H1264M1142 1032V1055M1212 1032V1055"/>
<text x="1082" y="1080">2</text><text x="1261" y="1080">2</text>
<text x="1140" y="1080" textLength="72" lengthAdjust="spacingAndGlyphs">(2) 2x10</text>
<text class="tg" x="1127" y="1022" textLength="32" lengthAdjust="spacingAndGlyphs">DSP</text>
<text class="tg" x="1196" y="1022" textLength="32" lengthAdjust="spacingAndGlyphs">DSP</text>
<rect class="s" x="1312" y="893" width="8" height="16"/><rect class="s" x="1033" y="893" width="10" height="16"/>
<text x="1296" y="903">3</text><text x="1047" y="905">3</text>

<path class="w" d="M562 365V908H630M572 365V892H630M810 892H1035M810 908H870"/>
<path class="y" d="M630 890H810V912H630ZM635 900H806M635 906H806M686 892V912M755 892V912"/>
<text class="tg" x="670" y="882" textLength="32" lengthAdjust="spacingAndGlyphs">DSP</text>
<text class="tg" x="740" y="882" textLength="32" lengthAdjust="spacingAndGlyphs">DSP</text>
<text x="626" y="940">3</text><text x="804" y="938">3</text>
<text x="680" y="939" textLength="72" lengthAdjust="spacingAndGlyphs">(2) 2x10</text>
<text transform="translate(630,685) rotate(-90)" textLength="125" lengthAdjust="spacingAndGlyphs" font-size="18">2x10 CJ</text>
<text transform="translate(644,695) rotate(-90)" textLength="145" lengthAdjust="spacingAndGlyphs" font-size="18">@ 16" O.C.</text>
<path class="l" d="M633 435V825M630 450L633 435L636 450M630 810L633 825L636 810"/>
<path class="w" d="M855 365V892M865 365V892M905 365V892M915 365V892"/>
<path class="rd" d="M877 365V892M892 365V892"/><rect class="p" x="878" y="420" width="14" height="30"/><rect class="p" x="878" y="808" width="14" height="30"/>
<text x="827" y="512" textLength="24" lengthAdjust="spacingAndGlyphs">DJ</text><text x="917" y="512" textLength="24" lengthAdjust="spacingAndGlyphs">DJ</text>
<text class="tg" x="736" y="602" textLength="102" lengthAdjust="spacingAndGlyphs">SOFFIT @ 9'-0"</text>
<path class="l" d="M880 570L860 608L845 590"/>
<text transform="translate(963,700) rotate(-90)" textLength="125" lengthAdjust="spacingAndGlyphs" font-size="18">2x10 CJ</text>
<text transform="translate(978,716) rotate(-90)" textLength="145" lengthAdjust="spacingAndGlyphs" font-size="18">@ 16" O.C.</text>
<path class="l" d="M966 500V790M963 515L966 500L969 515M963 775L966 790L969 775"/>
<path class="y" d="M900 892L945 805L955 822M905 892L948 812M945 805Q966 850 965 892M965 892Q966 845 982 805L1030 892M988 812L1024 892M897 915H1030"/>
<path class="b" d="M897 892H1035M897 908H1035"/><path class="bd" d="M905 900H1028"/>
<rect class="s" x="893" y="893" width="8" height="16"/><rect class="s" x="1028" y="893" width="8" height="16"/>
<text x="891" y="940">3</text><text x="1021" y="938">3</text>
<text x="900" y="991" textLength="88" lengthAdjust="spacingAndGlyphs">(2) 2x12 OR</text>
<text x="881" y="1021" textLength="128" lengthAdjust="spacingAndGlyphs">(2) 1.75x9.25 LVL</text>
<path class="l" d="M988 910L1008 975L990 982"/>

<path class="w" d="M870 908V1372H1320M878 915V1355H1320M886 1335V1372M870 1360H1320M1035 1335H1055V1368M1300 1335H1320"/>
<path class="d" d="M874 915V1335"/>
<text transform="translate(956,1235) rotate(-90)" textLength="100" lengthAdjust="spacingAndGlyphs" font-size="18">2x6 CJ</text>
<text transform="translate(970,1252) rotate(-90)" textLength="140" lengthAdjust="spacingAndGlyphs" font-size="18">@ 16" O.C.</text>
<path class="l" d="M958 1045V1315M955 1060L958 1045L961 1060M955 1300L958 1315L961 1300"/>
<text x="1110" y="1403" textLength="66" lengthAdjust="spacingAndGlyphs">(2) 2x8</text>
<path class="c" d="M1320 1047V1370"/><path class="w" d="M1320 705V1047"/>
<path class="d" d="M1320 705H1486V1372H1320"/>
<path class="w" d="M1465 705H1485V745H1465ZM1465 1020H1485V1058H1465ZM1465 1335H1485V1372H1465Z"/>
<text transform="translate(1500,965) rotate(-90)" textLength="120" lengthAdjust="spacingAndGlyphs" font-size="17">(2) 2x8</text>
<text x="1373" y="915" textLength="55" lengthAdjust="spacingAndGlyphs" font-size="24">2x6 CJ</text>
<text x="1365" y="948" textLength="76" lengthAdjust="spacingAndGlyphs" font-size="24">@ 16" O.C.</text>
<path class="l" d="M1342 925H1460M1352 921L1342 925L1352 929M1450 921L1460 925L1450 929"/>
<text x="1368" y="1451" textLength="74" lengthAdjust="spacingAndGlyphs">MIN 4x4</text>
<text x="1381" y="1483" textLength="50" lengthAdjust="spacingAndGlyphs">POST</text>
<path class="l" d="M1368 1441L1335 1430L1312 1375M1443 1441L1465 1430L1480 1375M1430 700C1440 600 1445 440 1465 437C1490 440 1500 470 1525 500"/>
</g>

<!-- stairs / fixtures (1:2.8 zoom) -->
<g transform="translate(1040,900) scale(.35714)">
<path class="c" d="M545 205V375M582 205V375M620 205V375M657 205V375M692 205V375M730 205V375M767 205V375M805 205V375M843 205V375M860 288H600M615 283L600 288L615 293M590 160L498 435M520 280L575 285"/>
<rect class="c" x="785" y="158" width="58" height="265" rx="29" ry="29"/>
<circle class="c" cx="812" cy="198" r="10"/><circle class="c" cx="812" cy="382" r="10"/>
<path class="c" d="M1472 228H1507V318H1472ZM1472 228Q1395 235 1395 272Q1395 310 1472 318M1472 240Q1412 245 1412 272Q1412 300 1472 306"/>
<ellipse class="c" cx="1472" cy="418" rx="32" ry="36"/><ellipse class="c" cx="1472" cy="418" rx="24" ry="28"/>
<path class="c" d="M1050 510L1100 460V510Z"/>
</g>

<!-- lower left fragment (1:3 zoom) -->
<g transform="translate(640,1320) scale(.33333)">
<path class="w" d="M42 93H755L812 68L765 125L815 93H1470V245L1505 225L1450 267H1470V520M142 93V220H355M492 220H887M1025 220H1240V93M125 130V237H350M500 237H882M1030 237H1240V403H1392M1255 93V386H1395"/>
<path class="y" d="M90 93V155H125M90 155L125 128M142 128H542V93M150 93V128M142 93V128"/>
<path class="y" d="M358 220H490L492 237L500 243H350L356 237ZM358 229H490M890 220H1022L1024 237L1032 243H882L888 237ZM890 229H1022M1398 385H1470V410H1390L1396 398ZM1398 396H1470"/>
</g>

<!-- Z6 typ beam bearing & title -->
<g transform="translate(1700,1050) scale(.3333,.37)" font-size="28">
<text class="tg" x="120" y="90" textLength="217" lengthAdjust="spacingAndGlyphs">(OPT.) PORCH</text>
<path class="w" d="M390 223H540M390 223V582M415 223V582M440 405V582M465 223V582M490 405V582M515 223V582M540 223V582"/>
<path d="M422 227H507M418 403H512" stroke="#aeb1bc" stroke-width="2.6" stroke-dasharray="6 1" fill="none"/>
<path class="w" d="M447 392V458M482 392V458" style="stroke-width:2.6"/>
<path class="l" d="M655 280H495M655 348H605L520 400M655 413L600 415L495 432M655 523H482"/>
<text x="662" y="288" textLength="445" lengthAdjust="spacingAndGlyphs">MAIN GARAGE BEAM AS SPEC'D</text>
<text x="662" y="315" textLength="418" lengthAdjust="spacingAndGlyphs">STEEL OR LVL (STEEL SHOWN)</text>
<text x="662" y="358" textLength="383" lengthAdjust="spacingAndGlyphs">BEAM SHALL BEAR ON END</text>
<text x="662" y="385" textLength="130" lengthAdjust="spacingAndGlyphs">OF STUDS</text>
<text x="662" y="425" textLength="450" lengthAdjust="spacingAndGlyphs">ATTACH STEEL BEAMS TO STUDS</text>
<text x="662" y="452" textLength="370" lengthAdjust="spacingAndGlyphs">WITH (2) 1/2" DIA. x 4" LONG</text>
<text x="662" y="480" textLength="176" lengthAdjust="spacingAndGlyphs">LAG SCREWS</text>
<text x="662" y="532" textLength="365" lengthAdjust="spacingAndGlyphs">NUMBER OF STUDS SPEC'D</text>
<text x="662" y="560" textLength="380" lengthAdjust="spacingAndGlyphs">(SEE PLANS) INCLUDES ALL</text>
<text x="662" y="590" textLength="408" lengthAdjust="spacingAndGlyphs">JACK STUDS AND KING STUDS</text>
<ellipse class="l" cx="332" cy="670" rx="39" ry="35"/>
<text x="316" y="685" font-size="38" textLength="34" lengthAdjust="spacingAndGlyphs">A</text>
<text x="378" y="685" textLength="819" lengthAdjust="spacingAndGlyphs" font-size="60">TYP. GARAGE BEAM BEARING</text>
<path class="l" d="M378 692H1197"/>
<text x="1143" y="716" textLength="49" lengthAdjust="spacingAndGlyphs" font-size="24">NTS</text>
</g>
<text class="tm" x="1559" y="1590" textLength="629" lengthAdjust="spacingAndGlyphs" font-size="36">FIRST FLOOR CEILING STRUCTURAL PLAN</text>
<path d="M1559 1594H2188" stroke="#d81cd8" stroke-width="1.6" fill="none"/>
<text class="tm" x="1559" y="1604" textLength="163" lengthAdjust="spacingAndGlyphs" font-size="10">SCALE: ------------ 1/4" = 1'-0"</text>
<text class="tm" x="2110" y="1604" textLength="78" lengthAdjust="spacingAndGlyphs" font-size="10">9'-0" CLG. HGT.</text>
</svg>
</body></html>
